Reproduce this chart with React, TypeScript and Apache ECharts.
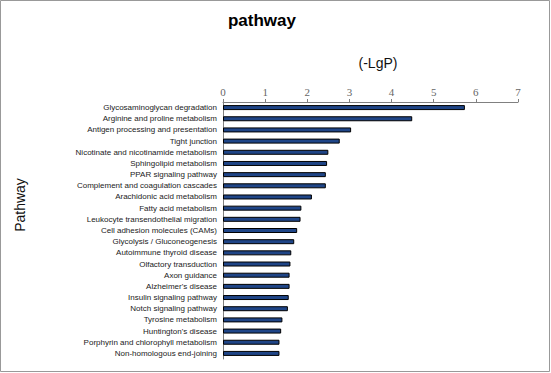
import React, { useEffect, useRef } from "react";
import * as echarts from "echarts";

const categories = [
  "Glycosaminoglycan degradation",
  "Arginine and proline metabolism",
  "Antigen processing and presentation",
  "Tight junction",
  "Nicotinate and nicotinamide metabolism",
  "Sphingolipid metabolism",
  "PPAR signaling pathway",
  "Complement and coagulation cascades",
  "Arachidonic acid metabolism",
  "Fatty acid metabolism",
  "Leukocyte transendothelial migration",
  "Cell adhesion molecules (CAMs)",
  "Glycolysis / Gluconeogenesis",
  "Autoimmune thyroid disease",
  "Olfactory transduction",
  "Axon guidance",
  "Alzheimer's disease",
  "Insulin signaling pathway",
  "Notch signaling pathway",
  "Tyrosine metabolism",
  "Huntington's disease",
  "Porphyrin and chlorophyll metabolism",
  "Non-homologous end-joining",
];

const values = [
  5.74, 4.49, 3.04, 2.77, 2.5, 2.47, 2.44, 2.44, 2.11, 1.86, 1.84, 1.76, 1.69,
  1.62, 1.6, 1.58, 1.58, 1.56, 1.54, 1.41, 1.38, 1.34, 1.34,
];

const titleText = "pathway";
const xName = "(-LgP)";
const yName = "Pathway";

export default function App() {
  const ref = useRef<HTMLDivElement>(null);
  useEffect(() => {
    document.body.style.margin = "0";
    const chart = echarts.init(ref.current!, null, { renderer: "svg" });
    chart.setOption({
      animation: false,
      backgroundColor: "#ffffff",
      grid: { left: 223, top: 102, width: 295, height: 257, containLabel: false },
      xAxis: {
        type: "value",
        position: "top",
        min: 0,
        max: 7,
        interval: 1,
        splitLine: { show: false },
        axisLine: { show: true, lineStyle: { color: "#808080", width: 1 } },
        axisTick: { show: true, length: 3, lineStyle: { color: "#808080" } },
        axisLabel: {
          fontFamily: "Liberation Serif",
          fontSize: 11,
          color: "#666",
          margin: 5,
        },
      },
      yAxis: {
        type: "category",
        data: categories,
        inverse: true,
        axisLine: { show: true, lineStyle: { color: "#808080", width: 1 } },
        axisTick: { show: false },
        axisLabel: {
          fontFamily: "Liberation Sans",
          fontSize: 8,
          color: "#222",
          margin: 6,
          interval: 0,
        },
      },
      series: [
        {
          type: "bar",
          data: values,
          barWidth: 5,
          itemStyle: { color: "#1f4587", borderColor: "#000", borderWidth: 1 },
        },
      ],
      graphic: [
        {
          type: "rect",
          shape: { x: 0.5, y: 0.5, width: 549, height: 371 },
          style: { fill: "none", stroke: "#999", lineWidth: 1 },
          silent: true,
        },
        {
          type: "text",
          x: 262,
          y: 20,
          style: {
            text: titleText,
            fontFamily: "Liberation Sans",
            fontSize: 17,
            fontWeight: "bold",
            fill: "#000",
            textAlign: "center",
            textVerticalAlign: "middle",
          },
        },
        {
          type: "text",
          x: 378,
          y: 63,
          style: {
            text: xName,
            fontFamily: "Liberation Sans",
            fontSize: 14,
            fill: "#111",
            textAlign: "center",
            textVerticalAlign: "middle",
          },
        },
        {
          type: "text",
          x: 20,
          y: 205,
          rotation: Math.PI / 2,
          style: {
            text: yName,
            fontFamily: "Liberation Sans",
            fontSize: 14,
            fill: "#111",
            textAlign: "center",
            textVerticalAlign: "middle",
          },
        },
      ],
    });
    return () => chart.dispose();
  }, []);
  return <div ref={ref} style={{ width: 551, height: 373 }} />;
}
